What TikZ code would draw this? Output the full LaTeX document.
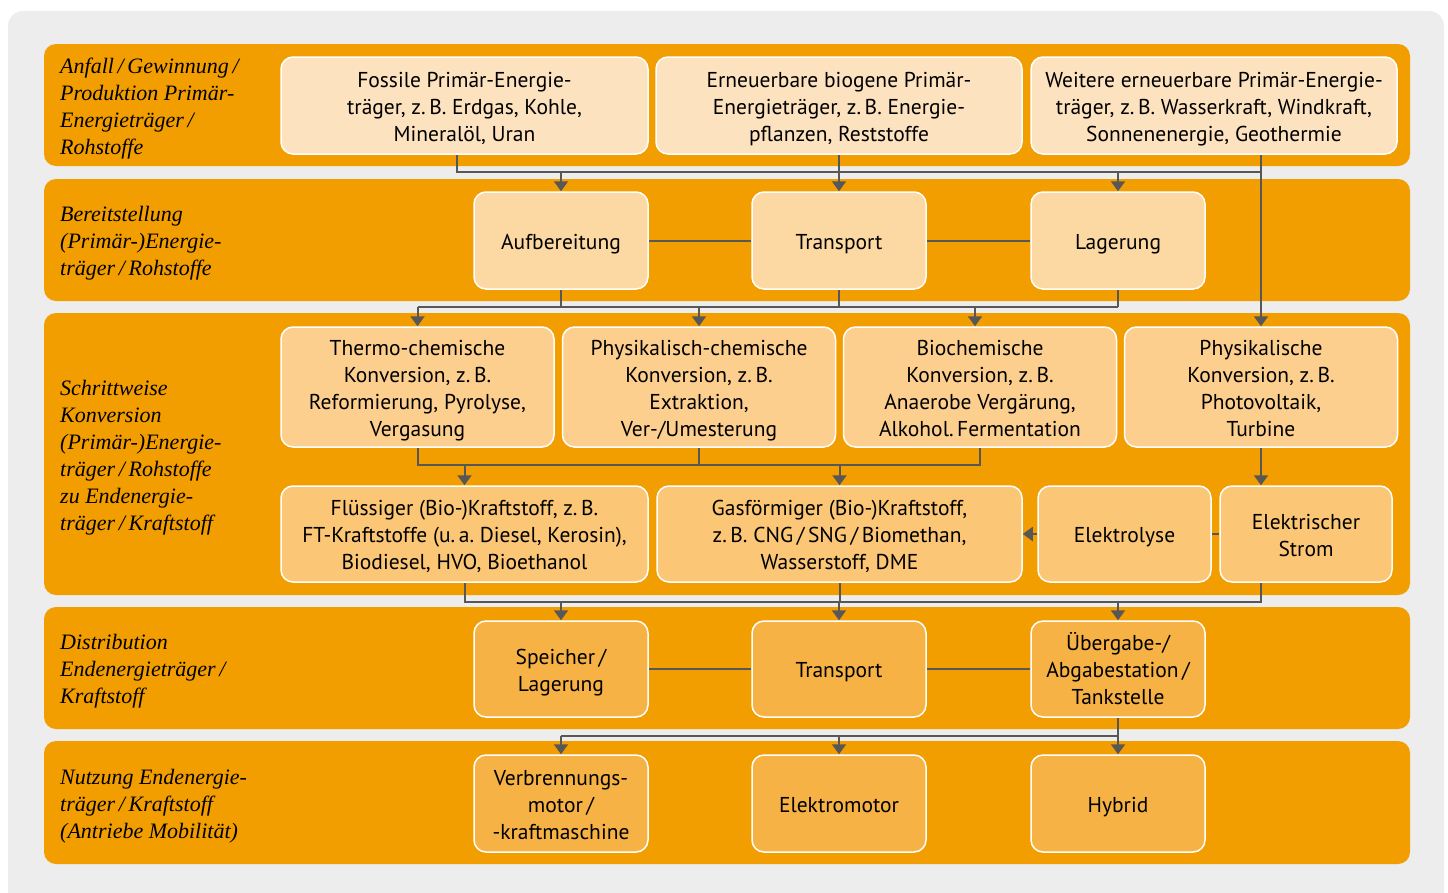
\documentclass[tikz,border=0pt]{standalone}
\usepackage{fontspec}
\setmainfont{PT Sans}
\newfontfamily\bandfont{Liberation Serif}
\usetikzlibrary{arrows.meta}
\frenchspacing
% colours of the chart
\definecolor{bggrey}{HTML}{ECEDEC}
\definecolor{bandorange}{HTML}{F39E00}
\definecolor{c1}{HTML}{FDE2BF}
\definecolor{c2}{HTML}{FCD8A2}
\definecolor{c3}{HTML}{FDCF8E}
\definecolor{c4}{HTML}{FBC675}
\definecolor{c5}{HTML}{F7B246}
\definecolor{linegrey}{HTML}{575757}
% fixed height of first line and depth of last line, so texts sit alike
\newcommand{\toplift}{\rule{0pt}{22pt}}
\newcommand{\bottomdrop}{\rule[-5pt]{0pt}{5pt}}
\tikzset{
  band/.style={fill=bandorange, rounded corners=12pt},
  bandlabel/.style={anchor=west, align=flush left, inner sep=0pt, text width=220pt,
    font=\bandfont\itshape\fontsize{22}{27}\selectfont,
    execute at begin node=\toplift, execute at end node=\bottomdrop},
  boxw/.style={minimum width=#1, text width=#1-12pt},
  box/.style={draw=white, line width=1.5pt, fill=#1, rounded corners=12pt,
    align=flush center, font=\fontsize{21.5}{27}\selectfont,
    boxw=174pt, minimum height=97pt,
    execute at begin node=\toplift, execute at end node=\bottomdrop},
  box/.default=c1,
  link/.style={draw=linegrey, line width=2pt},
  arr/.style={link, -{Triangle[length=10pt, width=14pt]}}
}

\begin{document}
\begin{tikzpicture}[x=1pt,y=-1pt]
  \useasboundingbox (0,0) rectangle (1448,892);
  \fill[bggrey, rounded corners=15pt] (8,11) rectangle (1444,920);
  % bands
  \path[band] (44,44) rectangle (1410,166);
  \path[band] (44,179) rectangle (1410,301);
  \path[band] (44,313) rectangle (1410,595);
  \path[band] (44,607) rectangle (1410,729);
  \path[band] (44,741) rectangle (1410,864);
  % band labels
  \node[bandlabel] (lab1) at (60,105) {Anfall\,/\,Gewinnung\,/\\Produktion Primär-\\Energieträger\,/\\Rohstoffe};
  \node[bandlabel] (lab2) at (60,240) {Bereitstellung\\(Primär-)Energie-\\träger\,/\,Rohstoffe};
  \node[bandlabel] (lab3) at (60,454) {Schrittweise\\Konversion\\(Primär-)Energie-\\träger\,/\,Rohstoffe\\zu Endenergie-\\träger\,/\,Kraftstoff};
  \node[bandlabel] (lab4) at (60,668) {Distribution\\Endenergieträger\,/\\Kraftstoff};
  \node[bandlabel] (lab5) at (60,803) {Nutzung Endenergie-\\träger\,/\,Kraftstoff\\(Antriebe Mobilität)};
  % primary energy carriers
  \node[box=c1, boxw=367pt] (fos) at (464.5,105.5) {Fossile Primär-Energie-\\träger, z.\,B. Erdgas, Kohle,\\Mineralöl, Uran};
  \node[box=c1, boxw=366pt] (bio) at (839,105.5) {Erneuerbare biogene Primär-\\Energieträger, z.\,B. Energie-\\pflanzen, Reststoffe};
  \node[box=c1, boxw=366pt] (ren) at (1214,105.5) {Weitere erneuerbare Primär-Energie-\\träger, z.\,B. Wasserkraft, Windkraft,\\Sonnenenergie, Geothermie};
  % provision
  \node[box=c2] (auf) at (561,240.5) {Aufbereitung};
  \node[box=c2] (tra) at (839,240.5) {Transport};
  \node[box=c2] (lag) at (1118,240.5) {Lagerung};
  % conversion
  \node[box=c3, boxw=273pt, minimum height=120pt] (thc) at (417.5,387) {Thermo-chemische\\Konversion, z.\,B.\\Reformierung, Pyrolyse,\\Vergasung};
  \node[box=c3, boxw=273pt, minimum height=120pt] (phc) at (699,387) {Physikalisch-chemische\\Konversion, z.\,B.\\Extraktion,\\Ver-/Umesterung};
  \node[box=c3, boxw=273pt, minimum height=120pt] (bic) at (980,387) {Biochemische\\Konversion, z.\,B.\\Anaerobe Vergärung,\\Alkohol.\,Fermentation};
  \node[box=c3, boxw=273pt, minimum height=120pt] (phy) at (1261,387) {Physikalische\\Konversion, z.\,B.\\Photovoltaik,\\Turbine};
  \node[box=c4, boxw=367pt, minimum height=96pt] (flu) at (464.5,534) {Flüssiger (Bio-)Kraftstoff, z.\,B.\\FT-Kraftstoffe (u.\,a. Diesel, Kerosin),\\Biodiesel, HVO, Bioethanol};
  \node[box=c4, boxw=365pt, minimum height=96pt] (gas) at (839.5,534) {Gasförmiger (Bio-)Kraftstoff,\\z.\,B. CNG\,/\,SNG\,/\,Biomethan,\\Wasserstoff, DME};
  \node[box=c4, boxw=173pt, minimum height=96pt] (ely) at (1124.5,534) {Elektrolyse};
  \node[box=c4, boxw=172pt, minimum height=96pt] (str) at (1306,534) {Elektrischer\\Strom};
  % distribution
  \node[box=c5, minimum height=96pt] (spe) at (561,669) {Speicher\,/\\Lagerung};
  \node[box=c5, minimum height=96pt] (trb) at (839,669) {Transport};
  \node[box=c5, minimum height=96pt] (ueb) at (1118,669) {Übergabe-/\\Abgabestation\,/\\Tankstelle};
  % use
  \node[box=c5] (vbm) at (561,803.5) {Verbrennungs-\\motor\,/\\-kraftmaschine};
  \node[box=c5] (emo) at (839,803.5) {Elektromotor};
  \node[box=c5] (hyb) at (1118,803.5) {Hybrid};

  % connectors
  \coordinate (j1) at (457,172);
  \draw[link] (fos.south -| j1) -- (j1) -- (j1 -| phy);
  \draw[arr] (ren.south -| phy) -- (phy);
  \draw[arr] (j1 -| auf) -- (auf);
  \draw[arr] (bio) -- (tra);
  \draw[arr] (j1 -| lag) -- (lag);
  \draw[link] (auf) -- (tra) (tra) -- (lag);

  \coordinate (j2) at (417,307);
  \draw[link] (auf) -- (auf |- j2) (tra) -- (tra |- j2) (lag) -- (lag |- j2);
  \draw[link] (thc |- j2) -- (lag |- j2);
  \draw[arr] (thc |- j2) -- (thc);
  \draw[arr] (phc |- j2) -- (phc);
  \draw[arr] ([xshift=-5pt]bic.north |- j2) -- ([xshift=-5pt]bic.north);

  \coordinate (j3) at (417,465);
  \draw[link] (thc) -- (thc |- j3) -- (bic |- j3) -- (bic);
  \draw[link] (phc) -- (phc |- j3);
  \draw[arr] (flu |- j3) -- (flu);
  \draw[arr] (gas |- j3) -- (gas);
  \draw[arr] (phy) -- (phy |- str.north);
  \draw[link] (str) -- (ely);
  \draw[arr] (ely) -- (gas);

  \coordinate (j4) at (465,602);
  \draw[link] (flu) -- (flu |- j4) -- (phy |- j4) -- (phy |- str.south);
  \draw[link] (gas) -- (gas |- j4);
  \draw[arr] (spe |- j4) -- (spe);
  \draw[arr] (trb |- j4) -- (trb);
  \draw[arr] (ueb |- j4) -- (ueb);
  \draw[link] (spe) -- (trb) (trb) -- (ueb);

  \coordinate (j5) at (561,736);
  \draw[link] (ueb) -- (ueb |- j5) -- (vbm |- j5);
  \draw[arr] (vbm |- j5) -- (vbm);
  \draw[arr] (emo |- j5) -- (emo);
  \draw[arr] (hyb |- j5) -- (hyb);
\end{tikzpicture}
\end{document}
